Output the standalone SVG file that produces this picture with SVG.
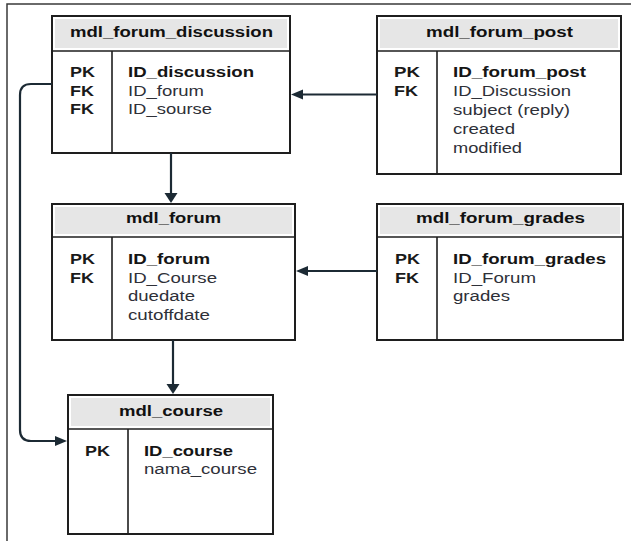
<svg xmlns="http://www.w3.org/2000/svg" width="633" height="541" viewBox="0 0 633 541">
<defs>
<style>
.frame{fill:none;stroke:#3a3a3a;stroke-width:1.5}
.box{fill:#fff;stroke:#1e1e1e;stroke-width:2}
.hdr{fill:#e6e6e6;stroke:none}
.sep{stroke:#1e1e1e;stroke-width:1.6;fill:none}
text{font-family:"Liberation Sans",Arial,sans-serif;font-size:14px}
.t{font-weight:bold;fill:#111}
.k{font-weight:bold;fill:#151515}
.pk{font-weight:bold;fill:#1a1a1a}
.f{fill:#2e3038}
.conn{fill:none;stroke:#1c2a34;stroke-width:2.2}
</style>
<marker id="ah" markerUnits="userSpaceOnUse" markerWidth="13" markerHeight="11" refX="0" refY="5" orient="auto" overflow="visible">
<path d="M0,0 L12,5 L0,10 z" fill="#1c2a34"/>
</marker>
<marker id="av" markerUnits="userSpaceOnUse" markerWidth="11" markerHeight="14" refX="0" refY="6.5" orient="auto" overflow="visible">
<path d="M0,0 L10,6.5 L0,13 z" fill="#1c2a34"/>
</marker>
</defs>
<rect width="633" height="541" fill="#fff"/>
<path class="frame" d="M7,541 V4 H631"/>

<g id="mdl_forum_discussion">
<rect class="box" x="52" y="16" width="238" height="137"/>
<rect class="hdr" x="55" y="19" width="232" height="29"/>
<line class="sep" x1="52" y1="51" x2="290" y2="51"/>
<line class="sep" x1="112" y1="51" x2="112" y2="153"/>
<text class="t" x="70" y="37" textLength="203" lengthAdjust="spacingAndGlyphs">mdl_forum_discussion</text>
<text class="pk" x="70" y="77" textLength="25" lengthAdjust="spacingAndGlyphs">PK</text>
<text class="pk" x="70" y="95.5" textLength="24" lengthAdjust="spacingAndGlyphs">FK</text>
<text class="pk" x="70" y="114" textLength="24" lengthAdjust="spacingAndGlyphs">FK</text>
<text class="k" x="128" y="77" textLength="126" lengthAdjust="spacingAndGlyphs">ID_discussion</text>
<text class="f" x="128" y="95.5" textLength="76" lengthAdjust="spacingAndGlyphs">ID_forum</text>
<text class="f" x="128" y="114" textLength="84" lengthAdjust="spacingAndGlyphs">ID_sourse</text>
</g>

<g id="mdl_forum_post">
<rect class="box" x="377" y="16" width="244" height="158"/>
<rect class="hdr" x="380" y="19" width="238" height="29"/>
<line class="sep" x1="377" y1="51" x2="621" y2="51"/>
<line class="sep" x1="437" y1="51" x2="437" y2="174"/>
<text class="t" x="426" y="37" textLength="147" lengthAdjust="spacingAndGlyphs">mdl_forum_post</text>
<text class="pk" x="394" y="77" textLength="26" lengthAdjust="spacingAndGlyphs">PK</text>
<text class="pk" x="394" y="95.5" textLength="24" lengthAdjust="spacingAndGlyphs">FK</text>
<text class="k" x="453" y="77" textLength="133" lengthAdjust="spacingAndGlyphs">ID_forum_post</text>
<text class="f" x="453" y="95.5" textLength="118" lengthAdjust="spacingAndGlyphs">ID_Discussion</text>
<text class="f" x="453" y="114.5" textLength="117" lengthAdjust="spacingAndGlyphs">subject (reply)</text>
<text class="f" x="453" y="133.5" textLength="62" lengthAdjust="spacingAndGlyphs">created</text>
<text class="f" x="453" y="152.5" textLength="69" lengthAdjust="spacingAndGlyphs">modified</text>
</g>

<g id="mdl_forum">
<rect class="box" x="52" y="204" width="243" height="136"/>
<rect class="hdr" x="55" y="207" width="237" height="27"/>
<line class="sep" x1="52" y1="237" x2="295" y2="237"/>
<line class="sep" x1="112" y1="237" x2="112" y2="340"/>
<text class="t" x="126" y="223" textLength="95" lengthAdjust="spacingAndGlyphs">mdl_forum</text>
<text class="pk" x="70" y="264" textLength="25" lengthAdjust="spacingAndGlyphs">PK</text>
<text class="pk" x="70" y="282.5" textLength="24" lengthAdjust="spacingAndGlyphs">FK</text>
<text class="k" x="128" y="264" textLength="82" lengthAdjust="spacingAndGlyphs">ID_forum</text>
<text class="f" x="128" y="282.5" textLength="89" lengthAdjust="spacingAndGlyphs">ID_Course</text>
<text class="f" x="128" y="301" textLength="67" lengthAdjust="spacingAndGlyphs">duedate</text>
<text class="f" x="128" y="320" textLength="82" lengthAdjust="spacingAndGlyphs">cutoffdate</text>
</g>

<g id="mdl_forum_grades">
<rect class="box" x="377" y="204" width="246" height="136"/>
<rect class="hdr" x="380" y="207" width="240" height="27"/>
<line class="sep" x1="377" y1="237" x2="623" y2="237"/>
<line class="sep" x1="437" y1="237" x2="437" y2="340"/>
<text class="t" x="416" y="223" textLength="169" lengthAdjust="spacingAndGlyphs">mdl_forum_grades</text>
<text class="pk" x="395" y="264" textLength="25" lengthAdjust="spacingAndGlyphs">PK</text>
<text class="pk" x="395" y="282.5" textLength="24" lengthAdjust="spacingAndGlyphs">FK</text>
<text class="k" x="453" y="264" textLength="153" lengthAdjust="spacingAndGlyphs">ID_forum_grades</text>
<text class="f" x="453" y="282.5" textLength="83" lengthAdjust="spacingAndGlyphs">ID_Forum</text>
<text class="f" x="453" y="301" textLength="57" lengthAdjust="spacingAndGlyphs">grades</text>
</g>

<g id="mdl_course">
<rect class="box" x="68" y="395" width="205" height="139"/>
<rect class="hdr" x="71" y="398" width="199" height="28"/>
<line class="sep" x1="68" y1="429" x2="273" y2="429"/>
<line class="sep" x1="128" y1="429" x2="128" y2="534"/>
<text class="t" x="119" y="415.5" textLength="104" lengthAdjust="spacingAndGlyphs">mdl_course</text>
<text class="pk" x="85" y="455.5" textLength="25" lengthAdjust="spacingAndGlyphs">PK</text>
<text class="k" x="144" y="455.5" textLength="89" lengthAdjust="spacingAndGlyphs">ID_course</text>
<text class="f" x="144" y="474" textLength="113" lengthAdjust="spacingAndGlyphs">nama_course</text>
</g>

<g id="connectors">
<path class="conn" d="M377,94.5 H303" marker-end="url(#ah)"/>
<path class="conn" d="M171,153 V193" marker-end="url(#av)"/>
<path class="conn" d="M377,271 H308" marker-end="url(#ah)"/>
<path class="conn" d="M173,340 V384" marker-end="url(#av)"/>
<path class="conn" d="M52,84 H31 Q20,84 20,95 V430 Q20,441 31,441 H55" marker-end="url(#ah)"/>
</g>
</svg>
